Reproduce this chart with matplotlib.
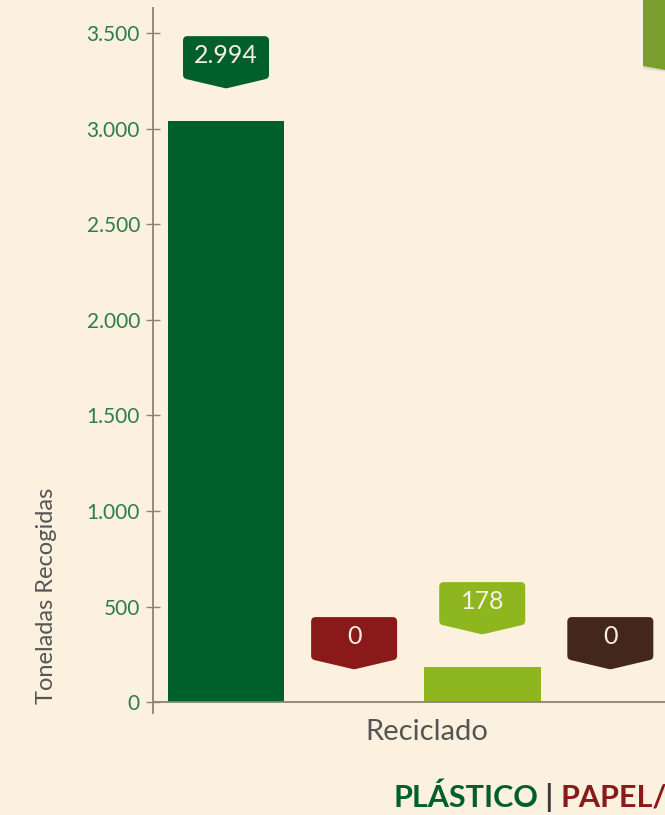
import matplotlib
matplotlib.use("Agg")
import matplotlib.pyplot as plt
import matplotlib.transforms as mtransforms
from matplotlib.patches import Polygon
from matplotlib.ticker import FuncFormatter

# Values
categories = ["Plástico", "Papel", "Vidrio", "Orgánico"]
bar_heights = [3040, 0, 183, 0]
value_labels = ["2.994", "0", "178", "0"]
bar_colors = ["#005f2b", "#8a1a1a", "#8db61f", "#43271a"]
y_ticks = [0, 500, 1000, 1500, 2000, 2500, 3000, 3500]
group_label = "Reciclado"
y_title = "Toneladas Recogidas"
legend_parts = [("PLÁSTICO", "#005f2b"), (" | ", "#3a3a3a"), ("PAPEL/CARTÓN", "#8a1a1a")]

BG = "#fcf0de"
GREEN_TXT = "#2e7d48"
GREY = "#8a8378"

plt.rcParams["font.family"] = ["Lato", "DejaVu Sans"]

fig = plt.figure(figsize=(6.65, 8.15), dpi=100, facecolor=BG)
ax = fig.add_axes([153 / 665, (815 - 712.6) / 815, (700 - 153) / 665, 704.6 / 815])
ax.set_facecolor(BG)

x = list(range(len(categories)))
ax.bar(x, bar_heights, width=0.91, color=bar_colors, zorder=2)
ax.set_xlim(-0.57, 3.70)
ax.set_ylim(-55, 3632)

ax.axhline(0, color=GREY, lw=1.3, zorder=3)
for s in ["top", "right", "bottom"]:
    ax.spines[s].set_visible(False)
ax.spines["left"].set_color(GREY)
ax.spines["left"].set_linewidth(1.3)

ax.set_yticks(y_ticks)
ax.yaxis.set_major_formatter(FuncFormatter(lambda v, p: f"{int(v):,}".replace(",", ".")))
ax.tick_params(axis="y", direction="inout", length=9.4, width=1.0, color=GREY,
               labelcolor=GREEN_TXT, labelsize=15, pad=4.7)
ax.set_xticks([])

# callout labels above each bar
w, h, tip = 0.43, 0.53, 0.12
r = 0.04
for xi, hv, lab, col in zip(x, bar_heights, value_labels, bar_colors):
    tr = fig.dpi_scale_trans + mtransforms.ScaledTranslation(xi, hv, ax.transData)
    base = 0.32
    verts = [(0, base + r * 1.2), (-w + r, base + tip + r * 0.5), (-w + r, base + h - r),
             (w - r, base + h - r), (w - r, base + tip + r * 0.5)]
    poly = Polygon(verts, closed=True, transform=tr, facecolor=col, edgecolor=col,
                   lw=r * 2 * 72, joinstyle="round", zorder=4, clip_on=False)
    ax.add_patch(poly)
    ax.annotate(lab, xy=(xi, hv), xytext=(0, (base + 0.34) * 72), textcoords="offset points",
                ha="center", va="center", color="#f6f1e4", fontsize=18, zorder=5)

fig.text(47 / 665, 1 - 596 / 815, y_title, rotation=90, ha="center", va="center",
         color="#555555", fontsize=17)
fig.text(427 / 665, 1 - 732 / 815, group_label, ha="center", va="center",
         color="#555555", fontsize=21)

# coloured legend line at the bottom
fig.canvas.draw()
renderer = fig.canvas.get_renderer()
xpos = 393
for txt, col in legend_parts:
    t = fig.text(xpos / 665, 8 / 815, txt, color=col, fontsize=22, fontweight="bold",
                 ha="left", va="baseline")
    xpos += t.get_window_extent(renderer).width

# decorative tab in the top-right corner
fig.patches.append(Polygon([(645, 815 + 5), (668, 815 + 5), (668, 815 - 72), (643, 815 - 69)],
                           closed=True, transform=None, facecolor="#d8cdb8", edgecolor="none",
                           alpha=0.6, zorder=0))
fig.patches.append(Polygon([(643, 815), (665, 815), (665, 815 - 70), (643, 815 - 66)],
                           closed=True, transform=None, facecolor="#7a9e2e", edgecolor="none",
                           zorder=1))

fig.savefig("out.png", dpi=100, facecolor=BG)
